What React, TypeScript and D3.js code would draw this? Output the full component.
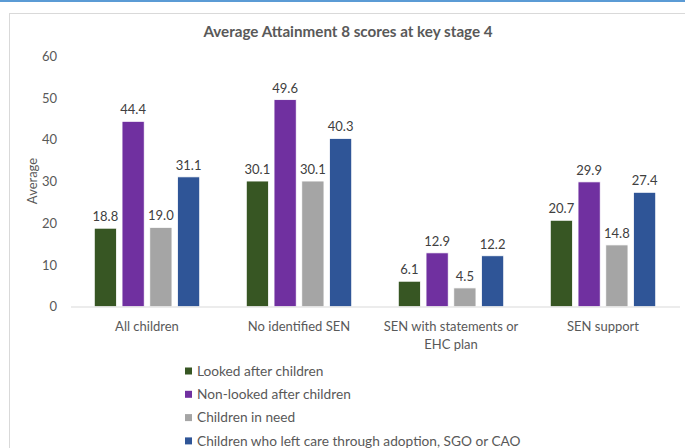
import React from 'react';
import * as d3 from 'd3';

const categories = ['All children', 'No identified SEN', 'SEN with statements or EHC plan', 'SEN support'];
const seriesNames = [
  'Looked after children',
  'Non-looked after children',
  'Children in need',
  'Children who left care through adoption, SGO or CAO',
];
const lookedAfter = [18.8, 30.1, 6.1, 20.7];
const nonLookedAfter = [44.4, 49.6, 12.9, 29.9];
const childrenInNeed = [19.0, 30.1, 4.5, 14.8];
const leftCare = [31.1, 40.3, 12.2, 27.4];
const yTicks = [0, 10, 20, 30, 40, 50, 60];
const colors = ['#375623', '#7030a0', '#a5a5a5', '#2f5597'];

const W = 685;
const H = 448;
const FONT = 'Lato, "Open Sans", sans-serif';

// crude wrap for the long category label
const labelLines = (c: string) =>
  c === 'SEN with statements or EHC plan' ? ['SEN with statements or', 'EHC plan'] : [c];

export default function App() {
  const series = [lookedAfter, nonLookedAfter, childrenInNeed, leftCare];

  const x0 = d3.scaleBand<string>()
    .domain(categories)
    .range([71, 679])
    .paddingInner(0.27)
    .paddingOuter(0.135);

  const x1 = d3.scaleBand<number>()
    .domain(d3.range(series.length))
    .range([0, x0.bandwidth()])
    .paddingInner(0.2)
    .paddingOuter(0.1);

  const y = d3.scaleLinear().domain([0, 60]).range([306.7, 56.2]);

  return (
    <div style={{ position: 'absolute', left: 0, top: 0 }}>
      <svg width={W} height={H} style={{ display: 'block', background: '#fff' }}>
        {/* frame */}
        <rect x={0} y={0} width={W} height={2} fill="#5b9bd5" />
        <line x1={9.5} x2={9.5} y1={13} y2={H} stroke="#d9d9d9" />
        <line x1={9.5} x2={W} y1={13.5} y2={13.5} stroke="#d9d9d9" />

        <text x={348} y={37} textAnchor="middle" fontFamily={FONT} fontSize={15.2}
          fontWeight="bold" fill="#595959">
          Average Attainment 8 scores at key stage 4
        </text>

        {/* y axis */}
        {yTicks.map(t => (
          <text key={t} x={57} y={y(t)} dy="0.35em" textAnchor="end"
            fontFamily={FONT} fontSize={13} fill="#595959">{t}</text>
        ))}
        <text transform={`translate(32,181) rotate(-90)`} textAnchor="middle" dy="0.35em"
          fontFamily={FONT} fontSize={13} fill="#595959">Average</text>

        {/* bars */}
        {categories.map((c, ci) => (
          <g key={c} transform={`translate(${x0(c)},0)`}>
            {series.map((s, si) => (
              <g key={si}>
                <rect x={x1(si)} y={y(s[ci])} width={x1.bandwidth()}
                  height={y(0) - y(s[ci])} fill={colors[si]} stroke="#fff" strokeWidth={0.8} />
                <text x={(x1(si) || 0) + x1.bandwidth() / 2} y={y(s[ci]) - 7}
                  textAnchor="middle" fontFamily={FONT} fontSize={13} fill="#404040">
                  {s[ci].toFixed(1)}
                </text>
              </g>
            ))}
          </g>
        ))}

        <line x1={71} x2={680} y1={307} y2={307} stroke="#d9d9d9" />

        {/* category labels */}
        {categories.map(c => (
          <text key={c} x={(x0(c) || 0) + x0.bandwidth() / 2} y={331} textAnchor="middle"
            fontFamily={FONT} fontSize={13} fill="#595959">
            {labelLines(c).map((l, i) => (
              <tspan key={i} x={(x0(c) || 0) + x0.bandwidth() / 2} dy={i === 0 ? 0 : 18}>{l}</tspan>
            ))}
          </text>
        ))}

        {/* legend */}
        {seriesNames.map((n, i) => (
          <g key={n} transform={`translate(185,${371 + i * 23.3})`}>
            <rect x={0} y={-3.5} width={7} height={7} fill={colors[i]} />
            <text x={12} y={0} dy="0.35em" fontFamily={FONT} fontSize={13.7} fill="#595959">{n}</text>
          </g>
        ))}
      </svg>
    </div>
  );
}
